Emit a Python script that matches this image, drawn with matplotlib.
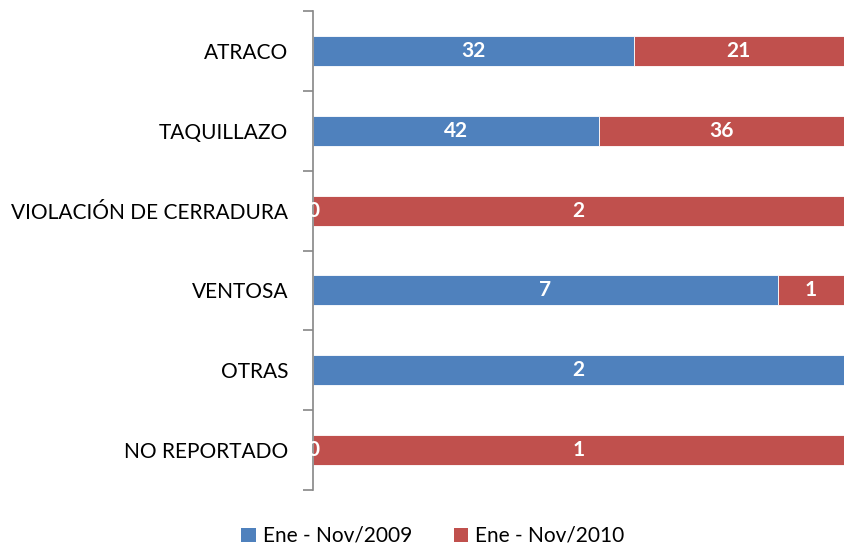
import matplotlib
matplotlib.use('Agg')
import matplotlib.pyplot as plt
from matplotlib.patches import Patch

plt.rcParams['font.family'] = ['Lato', 'DejaVu Sans']

categories = ["ATRACO", "TAQUILLAZO", "VIOLACIÓN DE CERRADURA", "VENTOSA", "OTRAS", "NO REPORTADO"]
values_2009 = [32, 42, 0, 7, 2, 0]
values_2010 = [21, 36, 2, 1, 0, 1]
series_names = ["Ene - Nov/2009", "Ene - Nov/2010"]

BLUE = '#4f81bd'
RED = '#c0504d'

fig = plt.figure(figsize=(8.44, 5.49), dpi=100)
ax = fig.add_axes([313 / 844, 1 - 490 / 549, 1 - 313 / 844, 479 / 549])

n = len(categories)
ypos = list(range(n))
share_a = []
share_b = []
for a, b in zip(values_2009, values_2010):
    tot = a + b
    share_a.append(a / tot)
    share_b.append(b / tot)

ax.barh(ypos, share_a, height=0.375, color=BLUE, edgecolor='white', linewidth=0.6)
ax.barh(ypos, share_b, left=share_a, height=0.375, color=RED, edgecolor='white', linewidth=0.6)

# value labels in the middle of each segment; a zero at the far right end falls off the plot
for i in range(n):
    ax.text(share_a[i] / 2, i, str(values_2009[i]), ha='center', va='center',
            color='white', fontsize=15, fontweight='bold')
    if share_b[i] > 0:
        ax.text(share_a[i] + share_b[i] / 2, i, str(values_2010[i]), ha='center', va='center',
                color='white', fontsize=15, fontweight='bold')

ax.set_xlim(0, 1)
ax.set_ylim(n - 0.5, -0.5)
ax.set_xticks([])
ax.set_yticks([i - 0.5 for i in range(n + 1)])
ax.set_yticklabels([])
ax.set_yticks(ypos, minor=True)
ax.set_yticklabels(categories, minor=True, fontsize=15)
ax.tick_params(axis='y', which='major', length=7, color='#868686', width=1.2)
ax.tick_params(axis='y', which='minor', length=0, pad=18)

for side in ['top', 'right', 'bottom']:
    ax.spines[side].set_visible(False)
ax.spines['left'].set_color('#868686')
ax.spines['left'].set_linewidth(1.2)

handles = [Patch(facecolor=BLUE), Patch(facecolor=RED)]
fig.legend(handles, series_names, loc='center', bbox_to_anchor=(433 / 844, 1 - 536 / 549),
           ncol=2, frameon=False, fontsize=15, handlelength=0.68, handleheight=0.68,
           handletextpad=0.35, columnspacing=2.0, borderpad=0.2)

fig.savefig('out.png', dpi=100)
